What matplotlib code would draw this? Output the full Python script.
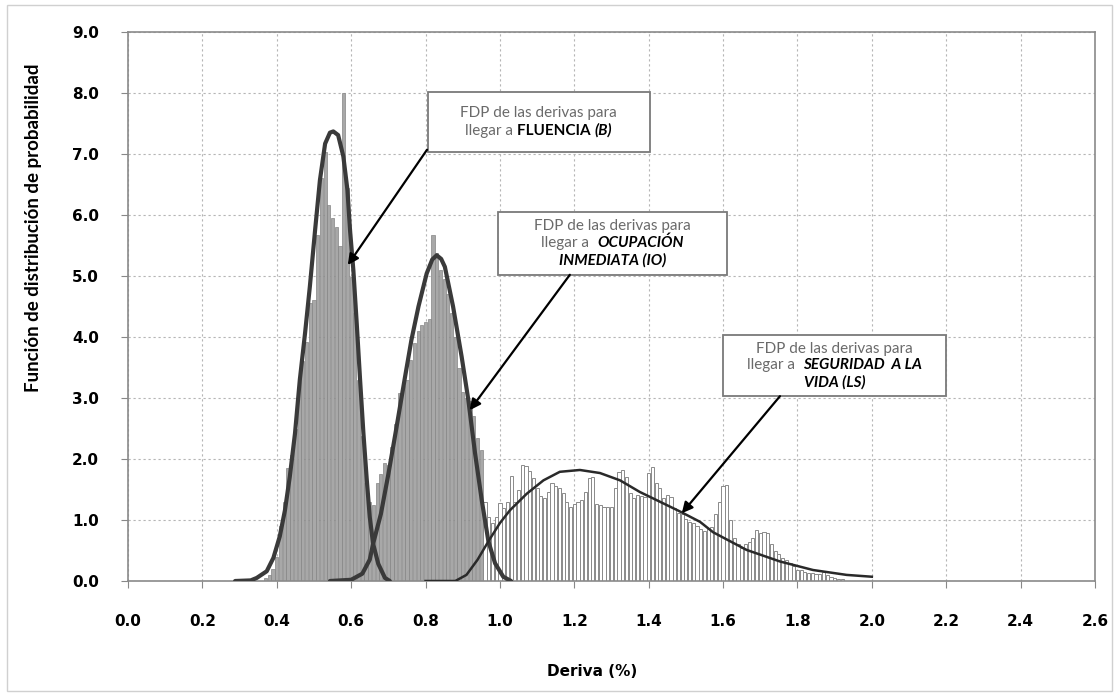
import numpy as np
import matplotlib
matplotlib.use("Agg")
import matplotlib.pyplot as plt
from matplotlib.patches import Rectangle
from matplotlib.offsetbox import TextArea, HPacker, VPacker, AnnotationBbox

plt.rcParams['font.family'] = ['Lato', 'DejaVu Sans']

# histogram bars (bin width 0.01)
b_start, io_start, ls_start = 0.37, 0.65, 0.96
b_vals = [0.05, 0.1, 0.2, 0.4, 0.9, 1.3, 1.85, 2.07, 2.5, 3.3, 3.6, 3.92, 4.55, 4.6,
          5.67, 6.6, 7.04, 6.16, 5.95, 5.81, 5.5, 8.0, 6.44, 4.99, 4.39, 3.3, 2.37, 1.6]
io_vals = [1.3, 1.25, 1.6, 1.75, 1.93, 1.9, 2.2, 2.58, 3.08, 3.2, 3.3, 3.62, 3.9, 4.1,
           4.2, 4.25, 4.3, 5.67, 5.37, 5.1, 4.95, 4.7, 4.4, 4.0, 3.5, 3.1, 3.0, 2.95,
           2.7, 2.35, 2.15]
ls_vals = [1.3, 1.05, 0.95, 1.05, 1.28, 1.2, 1.3, 1.72, 1.3, 1.5, 1.9, 1.88, 1.8, 1.69,
           1.52, 1.4, 1.36, 1.46, 1.6, 1.55, 1.52, 1.44, 1.3, 1.21, 1.26, 1.3, 1.33,
           1.46, 1.69, 1.71, 1.26, 1.24, 1.22, 1.21, 1.21, 1.52, 1.79, 1.82, 1.7, 1.44,
           1.36, 1.41, 1.4, 1.38, 1.77, 1.87, 1.6, 1.52, 1.36, 1.41, 1.38, 1.2, 1.12,
           1.1, 1.02, 0.97, 0.95, 0.9, 0.85, 0.82, 0.85, 0.88, 1.1, 1.3, 1.55, 1.57,
           1.0, 0.7, 0.6, 0.54, 0.6, 0.64, 0.7, 0.84, 0.78, 0.8, 0.78, 0.6, 0.5, 0.45,
           0.37, 0.35, 0.3, 0.25, 0.18, 0.18, 0.15, 0.13, 0.13, 0.12, 0.12, 0.15, 0.1,
           0.06, 0.05, 0.04, 0.03]

# fitted PDF curves
b_cx = [0.288, 0.33, 0.346, 0.373, 0.391, 0.408, 0.422, 0.435, 0.449, 0.462, 0.476,
        0.489, 0.503, 0.516, 0.530, 0.543, 0.552, 0.565, 0.579, 0.590, 0.597, 0.606,
        0.615, 0.624, 0.633, 0.642, 0.650, 0.659, 0.673, 0.691, 0.704]
b_cy = [0.0, 0.01, 0.05, 0.16, 0.38, 0.73, 1.16, 1.71, 2.42, 3.30, 4.06, 4.83, 5.75,
        6.57, 7.17, 7.35, 7.37, 7.31, 6.96, 6.41, 5.75, 5.09, 4.22, 3.30, 2.42, 1.66,
        1.05, 0.61, 0.28, 0.05, 0.0]
io_cx = [0.543, 0.60, 0.63, 0.65, 0.659, 0.68, 0.70, 0.72, 0.745, 0.762, 0.781, 0.803,
         0.818, 0.830, 0.842, 0.852, 0.874, 0.897, 0.915, 0.933, 0.951, 0.969, 0.987,
         1.009, 1.03]
io_cy = [0.0, 0.02, 0.12, 0.35, 0.61, 1.1, 1.75, 2.45, 3.35, 3.95, 4.5, 5.04, 5.27,
         5.34, 5.28, 5.15, 4.5, 3.68, 2.97, 2.1, 1.33, 0.65, 0.29, 0.07, 0.0]
ls_cx = [0.80, 0.88, 0.91, 0.94, 0.969, 1.0, 1.027, 1.072, 1.117, 1.161, 1.215, 1.269,
         1.323, 1.376, 1.430, 1.484, 1.538, 1.573, 1.663, 1.753, 1.842, 1.932, 2.0]
ls_cy = [0.0, 0.0, 0.1, 0.35, 0.65, 0.95, 1.16, 1.43, 1.65, 1.79, 1.82, 1.77, 1.65,
         1.46, 1.30, 1.14, 0.97, 0.80, 0.51, 0.32, 0.18, 0.10, 0.07]

x_ticks = [0.0, 0.2, 0.4, 0.6, 0.8, 1.0, 1.2, 1.4, 1.6, 1.8, 2.0, 2.2, 2.4, 2.6]
y_ticks = [0, 1, 2, 3, 4, 5, 6, 7, 8, 9]

fig = plt.figure(figsize=(11.19, 6.96), dpi=100)
ax = fig.add_axes([128 / 1119, 1 - 581 / 696, 967 / 1119, 549 / 696])

fig.patches.append(Rectangle((7 / 1119, 5 / 696), 1105 / 1119, 686 / 696,
                             transform=fig.transFigure, fill=False,
                             edgecolor='#d0d0d0', lw=1.0))


def bar_x(start, vals):
    return start + 0.01 * np.arange(len(vals))


w = 0.0085
ax.bar(bar_x(b_start, b_vals), b_vals, width=w, color='#a8a8a8',
       edgecolor='#858585', lw=0.5, zorder=2)
ax.bar(bar_x(io_start, io_vals), io_vals, width=w, color='#a8a8a8',
       edgecolor='#858585', lw=0.5, zorder=2)
ax.bar(bar_x(ls_start, ls_vals), ls_vals, width=w, color='white',
       edgecolor='#8a8a8a', lw=0.7, zorder=2)

ax.plot(b_cx, b_cy, color='#3a3a3a', lw=3.0, zorder=3, solid_capstyle='round')
ax.plot(io_cx, io_cy, color='#3a3a3a', lw=3.0, zorder=3, solid_capstyle='round')
ax.plot(ls_cx, ls_cy, color='#2a2a2a', lw=1.8, zorder=3)

tick_font = ['DejaVu Sans']
ax.set_xlim(0, 2.6)
ax.set_ylim(0, 9)
ax.set_xticks(x_ticks)
ax.set_yticks(y_ticks)
ax.set_xticklabels([f'{v:.1f}' for v in x_ticks], family=tick_font,
                   fontweight='bold', fontsize=11)
ax.set_yticklabels([f'{v:.1f}' for v in y_ticks], family=tick_font,
                   fontweight='bold', fontsize=11)
ax.tick_params(axis='x', direction='out', length=5, color='#888888', pad=19)
ax.tick_params(axis='y', direction='out', length=5, color='#888888', pad=16)
ax.grid(True, color='#b5b5b5', lw=0.8, ls=(0, (2, 2.5)), zorder=0)
ax.set_axisbelow(True)
for s in ax.spines.values():
    s.set_color('#8a8a8a')
    s.set_linewidth(1.2)

ax.set_xlabel('Deriva (%)', fontsize=11, fontweight='bold', family=tick_font)
ax.xaxis.set_label_coords(0.48, -0.152)
ax.set_ylabel('Función de distribución de probabilidad', fontsize=13.5,
              fontweight='bold')
ax.yaxis.set_label_coords(-0.089, 0.643)

gray = '#6a6a6a'
boxes = [
    ((0.806, 7.03), (1.403, 8.02),
     [[("FDP de las derivas para", 'normal', 'normal', gray)],
      [("llegar a ", 'normal', 'normal', gray), ("FLUENCIA ", 'bold', 'normal', 'black'),
       ("(B)", 'bold', 'italic', 'black')]]),
    ((0.995, 5.02), (1.61, 6.05),
     [[("FDP de las derivas para", 'normal', 'normal', gray)],
      [("llegar a  ", 'normal', 'normal', gray), ("OCUPACIÓN", 'bold', 'italic', 'black')],
      [("INMEDIATA (IO)", 'bold', 'italic', 'black')]]),
    ((1.60, 3.03), (2.20, 4.03),
     [[("FDP de las derivas para", 'normal', 'normal', gray)],
      [("llegar a  ", 'normal', 'normal', gray),
       ("SEGURIDAD  A LA", 'bold', 'italic', 'black')],
      [("VIDA (LS)", 'bold', 'italic', 'black')]]),
]
for (x0, y0), (x1, y1), lines in boxes:
    ax.add_patch(Rectangle((x0, y0), x1 - x0, y1 - y0, facecolor='white',
                           edgecolor='#7a7a7a', lw=1.3, zorder=5))
    rows = []
    for line in lines:
        parts = [TextArea(t, textprops=dict(fontsize=11, fontweight=fw, fontstyle=st,
                                            color=c))
                 for t, fw, st, c in line]
        rows.append(HPacker(children=parts, align='baseline', pad=0, sep=0))
    vp = VPacker(children=rows, align='center', pad=0, sep=2)
    ab = AnnotationBbox(vp, ((x0 + x1) / 2, (y0 + y1) / 2), frameon=False,
                        box_alignment=(0.5, 0.5), zorder=6)
    ax.add_artist(ab)

arrows = [((0.804, 7.07), (0.591, 5.18)),
          ((1.188, 5.02), (0.919, 2.80)),
          ((1.753, 3.03), (1.489, 1.11))]
for start, tip in arrows:
    ax.annotate('', xy=tip, xytext=start,
                arrowprops=dict(arrowstyle='-|>', color='black', lw=1.6,
                                mutation_scale=16, shrinkA=0, shrinkB=0),
                zorder=7)

fig.savefig('out.png', dpi=100)
